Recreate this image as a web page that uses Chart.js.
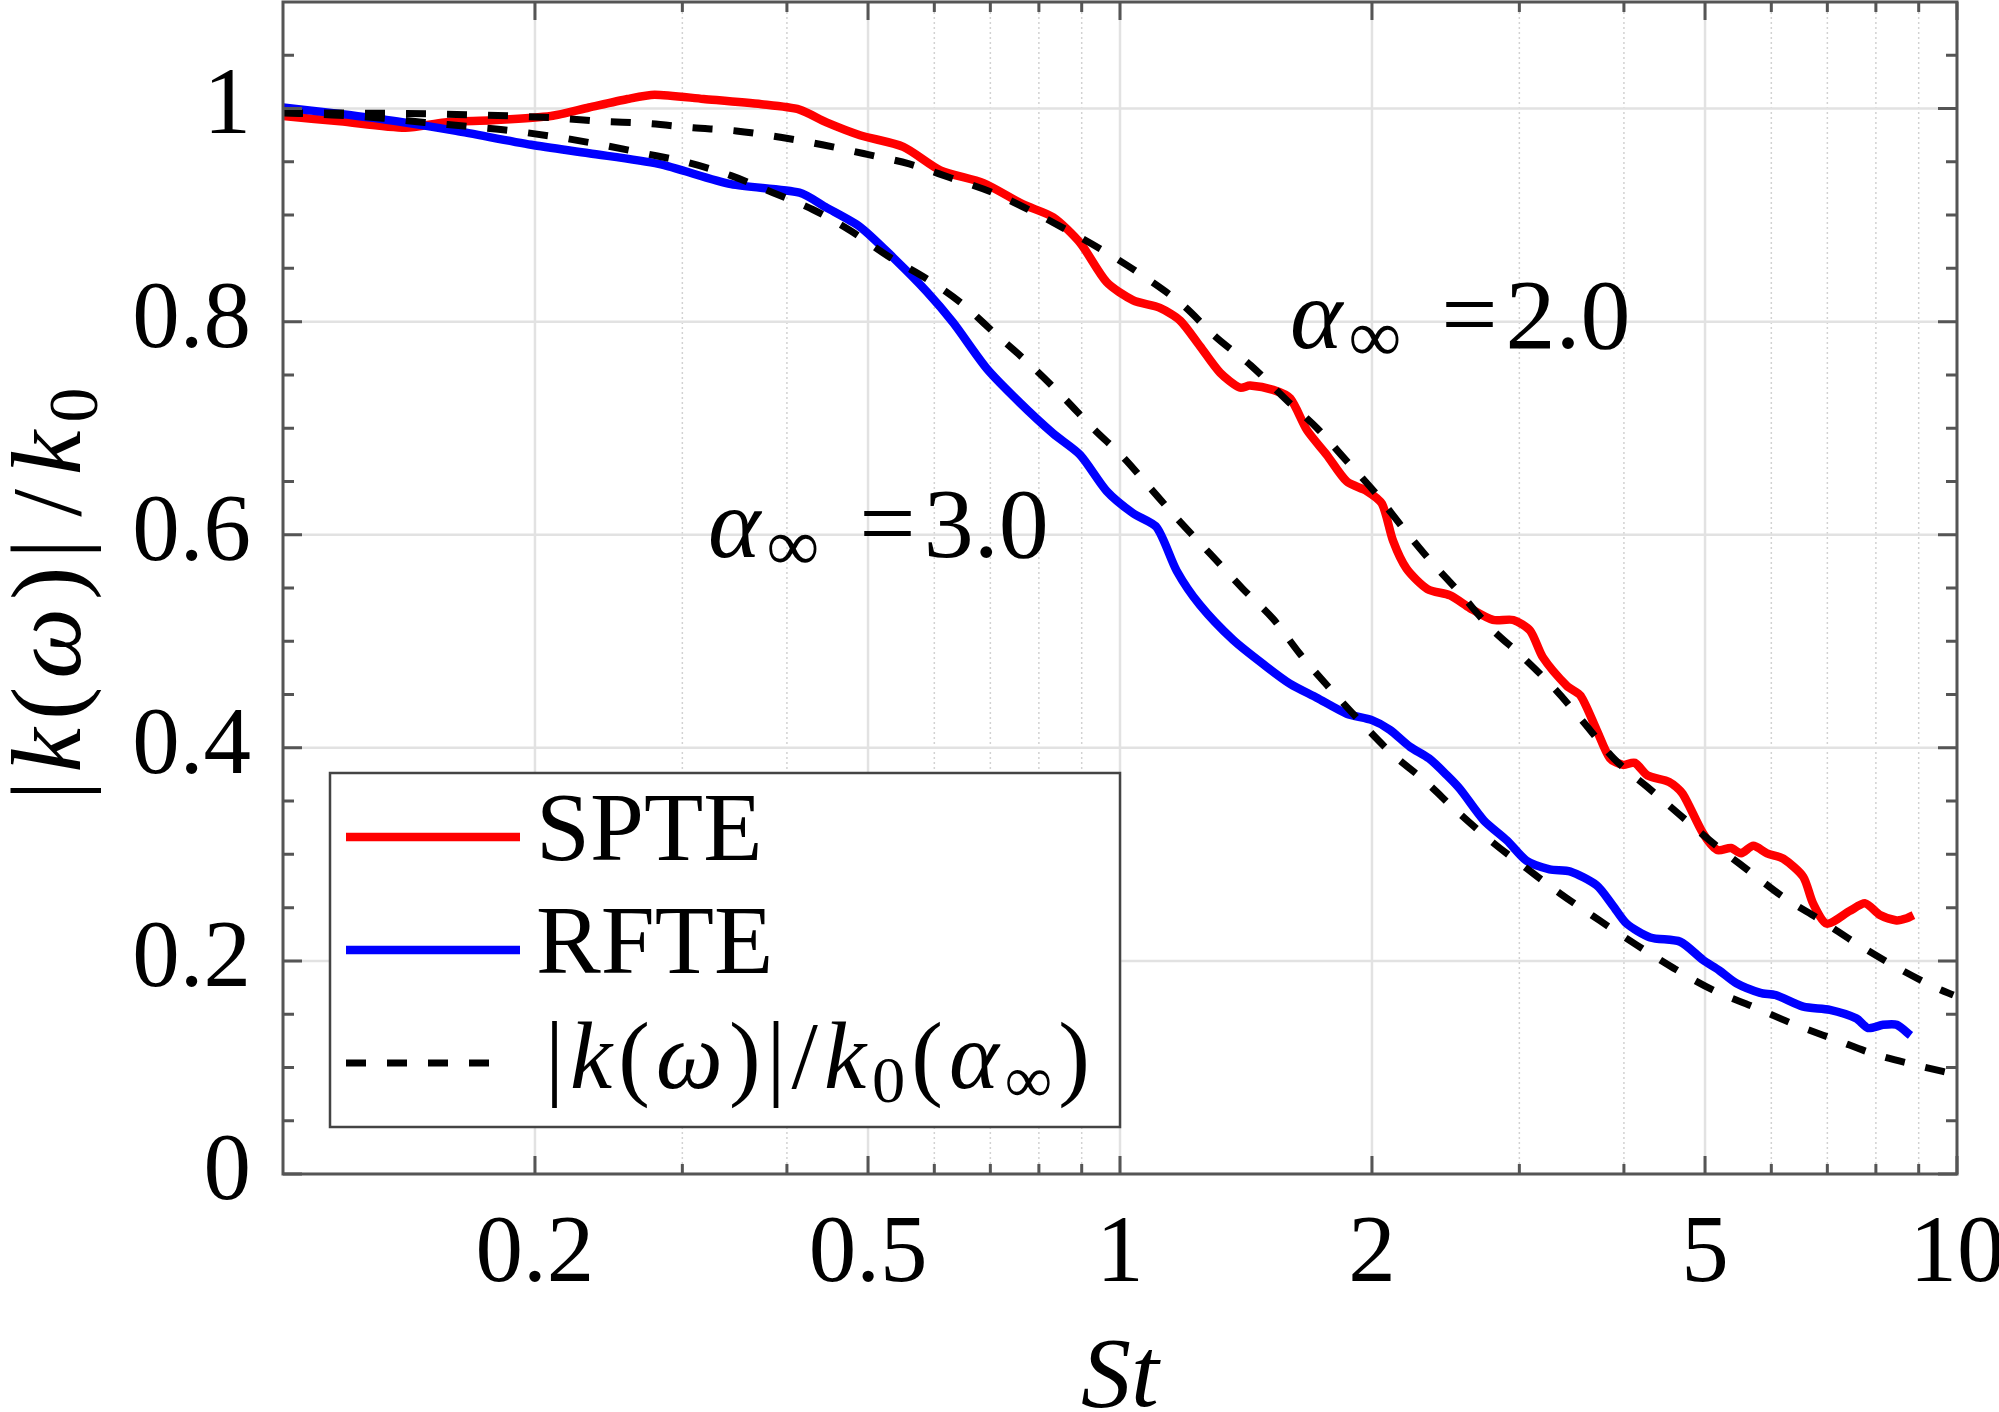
<!DOCTYPE html>
<html><head><meta charset="utf-8">
<script src="https://cdn.jsdelivr.net/npm/chart.js@4.4.0/dist/chart.umd.min.js"></script>
<style>html,body{margin:0;padding:0;background:#fff;}canvas{display:block;}</style>
</head><body>
<canvas id="c" width="1999" height="1412" style="width:1999px;height:1412px"></canvas>
<script>
// ---------- data ----------
const spteSt = [0.100,0.117,0.140,0.156,0.178,0.209,0.232,0.258,0.278,0.318,0.373,0.414,0.446,0.489,0.551,0.610,0.687,0.766,0.832,0.896,0.964,1.037,1.116,1.180,1.246,1.317,1.391,1.430,1.524,1.597,1.673,1.766,1.866,1.972,2.056,2.12,2.20,2.33,2.48,2.62,2.79,2.95,3.09,3.20,3.42,3.55,3.71,3.85,3.99,4.12,4.27,4.53,4.70,4.97,5.17,5.37,5.52,5.71,5.93,6.20,6.55,6.73,6.99,7.45,7.77,8.09,8.47,8.71,8.87];
const spteK  = [0.993,0.988,0.982,0.987,0.989,0.993,1.001,1.009,1.013,1.009,1.004,0.999,0.987,0.975,0.964,0.942,0.930,0.910,0.898,0.874,0.837,0.820,0.813,0.801,0.777,0.752,0.738,0.740,0.736,0.728,0.698,0.675,0.650,0.641,0.629,0.594,0.568,0.549,0.543,0.531,0.520,0.520,0.510,0.485,0.458,0.449,0.417,0.390,0.384,0.386,0.374,0.368,0.357,0.320,0.304,0.306,0.301,0.308,0.301,0.296,0.279,0.254,0.235,0.247,0.254,0.243,0.238,0.240,0.243];

const rfteSt = [0.100,0.117,0.137,0.161,0.198,0.232,0.281,0.343,0.414,0.446,0.489,0.536,0.588,0.632,0.693,0.759,0.832,0.896,0.964,1.037,1.106,1.169,1.246,1.366,1.497,1.597,1.718,1.866,2.00,2.10,2.22,2.34,2.46,2.55,2.72,2.90,3.06,3.26,3.45,3.71,3.88,4.03,4.30,4.67,4.97,5.20,5.45,5.82,6.07,6.55,7.05,7.58,7.83,8.16,8.47,8.80];
const rfteK  = [1.001,0.995,0.988,0.979,0.966,0.958,0.948,0.929,0.921,0.907,0.889,0.860,0.828,0.799,0.756,0.724,0.695,0.675,0.641,0.620,0.607,0.566,0.534,0.501,0.476,0.460,0.447,0.432,0.426,0.417,0.401,0.390,0.374,0.361,0.332,0.313,0.294,0.286,0.284,0.271,0.252,0.235,0.222,0.218,0.201,0.191,0.179,0.170,0.168,0.157,0.154,0.146,0.137,0.140,0.140,0.130];

const model2St = [0.100,0.149,0.188,0.2135,0.240,0.272,0.309,0.348,0.393,0.441,0.499,0.560,0.627,0.705,0.787,0.878,0.977,1.079,1.191,1.300,1.433,1.583,1.72,1.847,2.02,2.18,2.34,2.55,2.76,3.03,3.30,3.58,3.89,4.27,4.65,5.14,5.63,6.20,6.88,7.63,8.47,9.49,9.90];
const model2K  = [0.996,0.995,0.993,0.991,0.988,0.986,0.982,0.979,0.973,0.966,0.957,0.948,0.935,0.921,0.903,0.883,0.862,0.840,0.815,0.786,0.759,0.726,0.700,0.673,0.639,0.606,0.577,0.545,0.514,0.485,0.456,0.424,0.390,0.363,0.338,0.309,0.285,0.260,0.238,0.215,0.194,0.174,0.168];

const model3St = [0.100,0.1145,0.1315,0.1476,0.1675,0.188,0.2135,0.240,0.270,0.3055,0.343,0.385,0.430,0.475,0.532,0.588,0.647,0.711,0.780,0.851,0.931,1.011,1.089,1.180,1.282,1.403,1.524,1.641,1.78,1.93,2.11,2.32,2.53,2.79,3.07,3.36,3.74,4.14,4.59,5.13,5.71,6.41,7.16,8.00,9.07,9.90];
const model3K  = [0.996,0.994,0.991,0.987,0.983,0.979,0.973,0.966,0.958,0.949,0.937,0.921,0.905,0.886,0.860,0.840,0.817,0.788,0.760,0.731,0.699,0.672,0.643,0.612,0.582,0.549,0.521,0.488,0.456,0.426,0.395,0.368,0.340,0.311,0.286,0.263,0.238,0.215,0.193,0.172,0.157,0.140,0.126,0.112,0.101,0.094];

const seriesNames = ['SPTE','RFTE'];
const xLabelValues = [0.2,0.5,1,2,5,10];
const xLabelText   = ['0.2','0.5','1','2','5','10'];
const xMinorValues = [0.3,0.4,0.6,0.7,0.8,0.9,3,4,6,7,8,9];
const yTickValues  = [0,0.2,0.4,0.6,0.8,1];
const yTickLabels  = ['0','0.2','0.4','0.6','0.8','1'];
const yMinorValues = [0.05,0.1,0.15,0.25,0.3,0.35,0.45,0.5,0.55,0.65,0.7,0.75,0.85,0.9,0.95,1.05];
const annotations  = [{text:'2.0', St:1.596, k:0.775},{text:'3.0', St:0.322, k:0.579}];

// ---------- styling ----------
const SERIF = '"Liberation Serif","DejaVu Serif",serif';
const pts = (xs, ys) => xs.map((v, i) => ({x: v, y: ys[i]}));

const decor = {
  id: 'decor',
  beforeDatasetsDraw(chart) {
    const {ctx, chartArea: a, scales: {x, y}} = chart;
    ctx.save();
    ctx.beginPath(); ctx.rect(a.left, a.top, a.right - a.left, a.bottom - a.top); ctx.clip();
    const vline = (v) => { const p = x.getPixelForValue(v); ctx.beginPath(); ctx.moveTo(p, a.top); ctx.lineTo(p, a.bottom); ctx.stroke(); };
    const hline = (v) => { const p = y.getPixelForValue(v); ctx.beginPath(); ctx.moveTo(a.left, p); ctx.lineTo(a.right, p); ctx.stroke(); };
    ctx.strokeStyle = '#d2d2d2'; ctx.lineWidth = 1.5; ctx.setLineDash([2, 3]);
    xMinorValues.forEach(vline);
    ctx.setLineDash([]); ctx.strokeStyle = '#e2e2e2'; ctx.lineWidth = 2.5;
    xLabelValues.forEach(vline);
    yTickValues.forEach(hline);
    ctx.restore();
  },
  afterDatasetsDraw(chart) {
    const {ctx, chartArea: a, scales: {x, y}} = chart;
    ctx.save();
    // ticks (inward, all four sides)
    ctx.strokeStyle = '#555'; ctx.lineWidth = 3;
    const xt = (v, len) => { const p = x.getPixelForValue(v); ctx.beginPath(); ctx.moveTo(p, a.bottom); ctx.lineTo(p, a.bottom - len); ctx.moveTo(p, a.top); ctx.lineTo(p, a.top + len); ctx.stroke(); };
    const yt = (v, len) => { const p = y.getPixelForValue(v); ctx.beginPath(); ctx.moveTo(a.left, p); ctx.lineTo(a.left + len, p); ctx.moveTo(a.right, p); ctx.lineTo(a.right - len, p); ctx.stroke(); };
    xLabelValues.forEach(v => xt(v, 18));
    xMinorValues.forEach(v => xt(v, 10));
    yTickValues.forEach(v => yt(v, 19));
    yMinorValues.forEach(v => yt(v, 11));
    ctx.strokeRect(a.left, a.top, a.right - a.left, a.bottom - a.top);

    const drawPieces = (pieces, x0, base, size, gap) => {
      let cx = x0;
      for (const p of pieces) {
        const s = size * (p.scale || 1);
        ctx.font = (p.it ? 'italic ' : '') + s + 'px ' + SERIF;
        ctx.fillText(p.t, cx, base + (p.dy || 0));
        cx += ctx.measureText(p.t).width + (p.gap !== undefined ? p.gap : gap);
      }
      return cx;
    };
    const measurePieces = (pieces, size, gap) => {
      let w = 0;
      for (const p of pieces) { ctx.font = (p.it ? 'italic ' : '') + size * (p.scale || 1) + 'px ' + SERIF; w += ctx.measureText(p.t).width + (p.gap !== undefined ? p.gap : gap); }
      return w;
    };
    ctx.fillStyle = '#000'; ctx.textBaseline = 'alphabetic'; ctx.textAlign = 'left';

    // annotations alpha_inf = ...
    for (const an of annotations) {
      const px = x.getPixelForValue(an.St), py = y.getPixelForValue(an.k);
      drawPieces([
        {t: 'α', it: true, gap: 6},
        {t: '∞', scale: 0.74, dy: 13, gap: 40},
        {t: '=', gap: 8},
        {t: an.text}
      ], px, py, 100, 0);
    }

    // legend
    const L = {x0: 330, y0: 773, x1: 1120, y1: 1127};
    ctx.fillStyle = '#fff'; ctx.fillRect(L.x0, L.y0, L.x1 - L.x0, L.y1 - L.y0);
    ctx.strokeStyle = '#444'; ctx.lineWidth = 2.5; ctx.strokeRect(L.x0, L.y0, L.x1 - L.x0, L.y1 - L.y0);
    const ds = chart.data.datasets;
    const rows = [{ds: ds[0], y: 837}, {ds: ds[1], y: 950}, {ds: ds[2], y: 1063}];
    rows.forEach((r, i) => {
      ctx.strokeStyle = r.ds.borderColor; ctx.lineWidth = r.ds.borderWidth;
      ctx.setLineDash(r.ds.borderDash || []);
      ctx.beginPath(); ctx.moveTo(346, r.y); ctx.lineTo(i === 2 ? 508 : 520, r.y); ctx.stroke();
      ctx.setLineDash([]);
    });
    ctx.fillStyle = '#000';
    ctx.font = '97px ' + SERIF;
    ctx.fillText(seriesNames[0], 536, 860);
    ctx.fillText(seriesNames[1], 536, 973);
    drawPieces([
      {t: '|'}, {t: 'k', it: true}, {t: '('}, {t: 'ω', it: true}, {t: ')'}, {t: '|'}, {t: '/'},
      {t: 'k', it: true}, {t: '0', scale: 0.7, dy: 14}, {t: '('}, {t: 'α', it: true},
      {t: '∞', scale: 0.7, dy: 14}, {t: ')'}
    ], 545, 1088, 95, 6);

    // x title
    ctx.font = 'italic 100px ' + SERIF; ctx.textAlign = 'center';
    ctx.fillText('St', (a.left + a.right) / 2, 1406);
    ctx.textAlign = 'left';

    // y title (rotated)
    const yPieces = [
      {t: '|'}, {t: 'k', it: true}, {t: '('}, {t: 'ω', it: true}, {t: ')'}, {t: '|', gap: 22}, {t: '/', gap: 14},
      {t: 'k', it: true}, {t: '0', scale: 0.7, dy: 17}
    ];
    const wTitle = measurePieces(yPieces, 100, 8);
    ctx.translate(80, 590); ctx.rotate(-Math.PI / 2);
    drawPieces(yPieces, -wTitle / 2, 0, 100, 8);
    ctx.restore();
  }
};

new Chart(document.getElementById('c'), {
  type: 'scatter',
  data: {
    datasets: [
      {label: 'SPTE', data: pts(spteSt, spteK), showLine: true, borderColor: '#ff0000', borderWidth: 8.5, pointRadius: 0, tension: 0.25, order: 2},
      {label: 'RFTE', data: pts(rfteSt, rfteK), showLine: true, borderColor: '#0000ff', borderWidth: 8.5, pointRadius: 0, tension: 0.25, order: 1},
      {label: 'model α=2.0', data: pts(model2St, model2K), showLine: true, borderColor: '#000', borderWidth: 7, borderDash: [20, 21], pointRadius: 0, cubicInterpolationMode: 'monotone', order: 0},
      {label: 'model α=3.0', data: pts(model3St, model3K), showLine: true, borderColor: '#000', borderWidth: 7, borderDash: [20, 21], pointRadius: 0, cubicInterpolationMode: 'monotone', order: 0}
    ]
  },
  options: {
    responsive: false, animation: false, devicePixelRatio: 1,
    layout: {padding: {left: 0, right: 42, top: 2, bottom: 0}},
    plugins: {legend: {display: false}, tooltip: {enabled: false}},
    scales: {
      x: {
        type: 'logarithmic', min: 0.1, max: 10, position: 'bottom',
        grid: {display: false, drawTicks: false}, border: {display: false},
        afterBuildTicks: s => { s.ticks = xLabelValues.map(v => ({value: v})); },
        ticks: {autoSkip: false, maxRotation: 0, minRotation: 0, padding: 25, color: '#000',
          font: {family: SERIF, size: 95, lineHeight: 1.2},
          callback: (v, i) => xLabelText[i]},
        afterFit: s => { s.height = 238; s.paddingLeft = 0; s.paddingRight = 0; }
      },
      y: {
        type: 'linear', min: 0, max: 1.1, position: 'left',
        grid: {display: false, drawTicks: false}, border: {display: false},
        afterBuildTicks: s => { s.ticks = yTickValues.map(v => ({value: v})); },
        ticks: {autoSkip: false, padding: 32, color: '#000',
          font: {family: SERIF, size: 95, lineHeight: 1.2},
          callback: (v, i) => yTickLabels[i]},
        afterFit: s => { s.width = 283; s.paddingTop = 0; s.paddingBottom = 0; }
      }
    }
  },
  plugins: [decor]
});
</script>
</body></html>
